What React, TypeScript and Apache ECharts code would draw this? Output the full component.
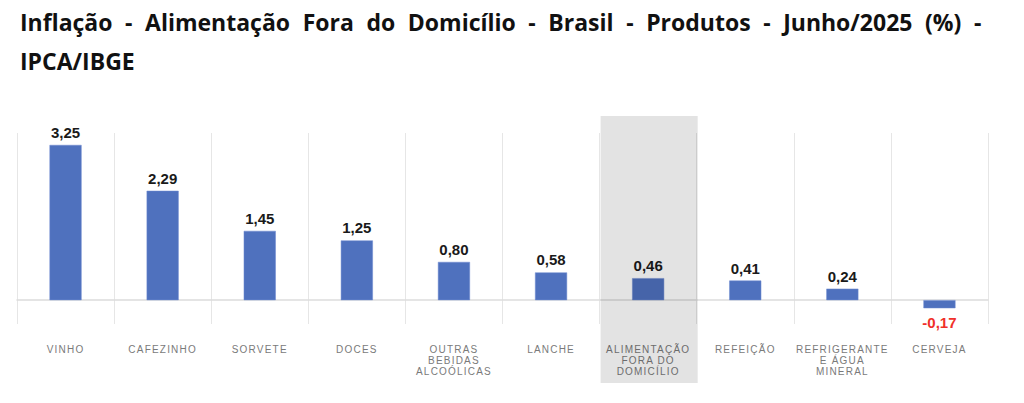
import React, { useEffect, useRef } from "react";
import * as echarts from "echarts";

const titleLine1 = "Inflação - Alimentação Fora do Domicílio - Brasil - Produtos - Junho/2025 (%) -";
const titleLine2 = "IPCA/IBGE";

const categories = [
  "VINHO",
  "CAFEZINHO",
  "SORVETE",
  "DOCES",
  "OUTRAS\nBEBIDAS\nALCOÓLICAS",
  "LANCHE",
  "ALIMENTAÇÃO\nFORA DO\nDOMICÍLIO",
  "REFEIÇÃO",
  "REFRIGERANTE\nE ÁGUA\nMINERAL",
  "CERVEJA",
];
const values = [3.25, 2.29, 1.45, 1.25, 0.8, 0.58, 0.46, 0.41, 0.24, -0.17];
const highlightIndex = 6;

const fmt = (v: number) => v.toFixed(2).replace(".", ",");
const LABEL_COLOR = "#7a7a7a";

export default function App() {
  const ref = useRef<HTMLDivElement>(null);
  useEffect(() => {
    if (!ref.current) return;
    const chart = echarts.init(ref.current, undefined, { renderer: "svg" });
    const option: any = {
      animation: false,
      backgroundColor: "#ffffff",
      title: [
        {
          text: titleLine1,
          left: 15,
          top: 5,
          textStyle: { fontFamily: "Open Sans", fontWeight: "bold", fontSize: 23, color: "#111" },
        },
        {
          text: titleLine2,
          left: 15,
          top: 44,
          textStyle: { fontFamily: "Open Sans", fontWeight: "bold", fontSize: 23, color: "#111" },
        },
      ],
      grid: { left: 17, right: 36, top: 133, bottom: 79, containLabel: false },
      xAxis: {
        type: "category",
        data: categories,
        axisLine: { onZero: true, lineStyle: { color: "#dcdcdc", width: 1.5 } },
        axisTick: { show: false },
        splitLine: { show: true, lineStyle: { color: "#e6e6e6", width: 1 } },
        axisLabel: {
          interval: 0,
          margin: 20,
          fontFamily: "Liberation Sans",
          fontSize: 10,
          lineHeight: 11,
          color: LABEL_COLOR,
          align: "center",
        },
      },
      yAxis: {
        type: "value",
        min: -0.5,
        max: 3.5,
        interval: 0.5,
        show: false,
        splitLine: { show: false },
      },
      series: [
        {
          type: "bar",
          barWidth: "33%",
          itemStyle: { color: "#4f71be", borderColor: "#6f8bd0", borderWidth: 0.5 },
          data: values.map((v) => ({
            value: v,
            label: {
              show: true,
              position: v < 0 ? "bottom" : "top",
              distance: v < 0 ? 7 : 5,
              formatter: () => fmt(v),
              fontFamily: "Liberation Sans",
              fontWeight: "bold",
              fontSize: 15,
              color: v < 0 ? "#f0302a" : "#1a1a1a",
            },
          })),
        },
      ],
    };
    chart.setOption(option);
    const c = chart.convertToPixel({ xAxisIndex: 0 }, highlightIndex) as number;
    const c2 = chart.convertToPixel({ xAxisIndex: 0 }, highlightIndex + 1) as number;
    const band = c2 - c;
    chart.setOption({
      graphic: [
        {
          type: "rect",
          z: 100,
          shape: { x: c - band / 2 + 1, y: 116, width: band, height: 267 },
          style: { fill: "rgba(0,0,0,0.11)" },
          silent: true,
        },
      ],
    });
    // letter-spaced category labels and justified title, as in the reference
    const svgTexts = ref.current.querySelectorAll("text");
    svgTexts.forEach((t) => {
      const fill = (t.getAttribute("fill") || "").toLowerCase();
      const style = (t.getAttribute("style") || "").toLowerCase();
      if (fill === LABEL_COLOR || style.includes("fill:" + LABEL_COLOR) || style.includes("rgb(122,122,122)")) {
        t.setAttribute("letter-spacing", "1.2");
      }
      if ((t.textContent || "") === titleLine1) {
        t.setAttribute("word-spacing", "6.6");
      }
    });
    return () => chart.dispose();
  }, []);
  return (
    <div
      ref={ref}
      style={{ position: "fixed", left: 0, top: 0, width: 1024, height: 403 }}
    />
  );
}
